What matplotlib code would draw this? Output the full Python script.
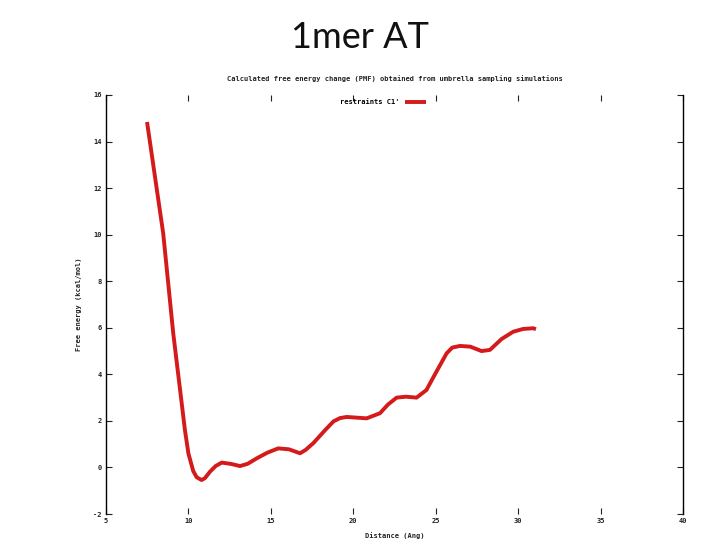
import matplotlib
matplotlib.use("Agg")
import matplotlib.pyplot as plt

distance = [7.49, 7.9, 8.47, 9.08, 9.5, 9.79, 10.0, 10.29, 10.5, 10.8, 11.0, 11.31, 11.65,
            12.02, 12.6, 13.13, 13.6, 14.14, 14.8, 15.45, 16.1, 16.77, 17.1, 17.57, 18.3,
            18.8, 19.19, 19.6, 20.0, 20.81, 21.62, 22.1, 22.63, 23.2, 23.84, 24.44, 25.0,
            25.66, 26.0, 26.47, 27.1, 27.78, 28.29, 29.0, 29.7, 30.3, 30.91, 31.08]
free_energy = [14.84, 12.84, 10.06, 5.76, 3.3, 1.6, 0.6, -0.15, -0.42, -0.54, -0.46,
               -0.18, 0.06, 0.21, 0.15, 0.06, 0.16, 0.39, 0.64, 0.82, 0.78, 0.61, 0.75,
               1.04, 1.61, 1.98, 2.12, 2.17, 2.15, 2.11, 2.33, 2.7, 3.0, 3.04, 3.0, 3.33,
               4.06, 4.9, 5.15, 5.22, 5.19, 5.0, 5.05, 5.52, 5.83, 5.95, 5.98, 5.94]
xticks = [5, 10, 15, 20, 25, 30, 35, 40]
yticks = [-2, 0, 2, 4, 6, 8, 10, 12, 14, 16]

fig = plt.figure(figsize=(7.2, 5.4), dpi=100)
fig.text(0.5, 0.930, "1mer AT", ha="center", va="center", fontsize=26,
         family=["Lato", "DejaVu Sans"], color="#111111")

ax = fig.add_axes([0.1472, 0.0481, 0.8014, 0.776])
ax.plot(distance, free_energy, color="#d41a1a", lw=2.8, solid_capstyle="butt",
        solid_joinstyle="round", label="restraints C1'")
ax.set_xlim(5, 40)
ax.set_ylim(-2, 16)
ax.set_xticks(xticks)
ax.set_yticks(yticks)
small = dict(family="DejaVu Sans Mono", fontsize=5, fontweight="bold", color="#222222")
ax.set_xticklabels([str(t) for t in xticks], **small)
ax.set_yticklabels([str(t) for t in yticks], **small)
ax.tick_params(direction="in", length=4, width=0.8, top=True, right=True,
               pad=3, colors="#222222")
for s in ["top", "bottom"]:
    ax.spines[s].set_visible(False)
for s in ["left", "right"]:
    ax.spines[s].set_linewidth(1.0)
ax.set_title("Calculated free energy change (PMF) obtained from umbrella sampling simulations",
             pad=10, **small)
ax.set_xlabel("Distance (Ang)", labelpad=6, **small)
ax.set_ylabel("Free energy (kcal/mol)", labelpad=8, **small)
leg = ax.legend(loc="upper center", bbox_to_anchor=(0.48, 1.005), frameon=False,
                handlelength=3.0, handletextpad=0.8, markerfirst=False,
                prop=dict(family="DejaVu Sans Mono", size=5, weight="bold"))

fig.savefig("out.png", dpi=100)
